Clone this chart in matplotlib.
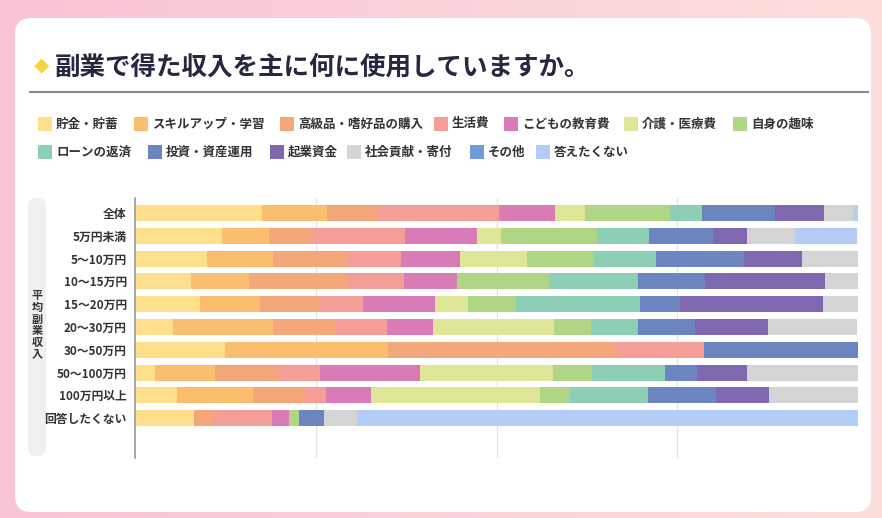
import numpy as np
import matplotlib.pyplot as plt
from matplotlib.patches import FancyBboxPatch, Rectangle

plt.rcParams['font.family'] = ['Noto Sans CJK JP', 'DejaVu Sans']

groups = ['全体', '5万円未満', '5～10万円', '10～15万円', '15～20万円', '20～30万円',
          '30～50万円', '50～100万円', '100万円以上', '回答したくない']

# percentages per answer, one value per group
savings   = [17.5, 12.1,  9.9,  7.7,  9.0,  5.3, 12.4,  2.8,  5.8,  8.2]
skills    = [ 9.1,  6.4,  9.2,  8.1,  8.3, 13.8, 22.6,  8.3, 10.5,  0.0]
luxury    = [ 7.0,  5.9, 10.4, 13.5,  8.3,  8.7, 31.5,  9.0,  7.3,  2.6]
living    = [16.8, 12.9,  7.3,  7.9,  5.9,  7.0, 12.2,  5.5,  2.8,  8.2]
education = [ 7.7, 10.0,  8.1,  7.3, 10.0,  6.4,  0.0, 13.8,  6.2,  2.3]
medical   = [ 4.1,  3.3,  9.3,  0.0,  4.6, 16.7,  0.0, 18.4, 23.4,  0.0]
hobby     = [11.8, 13.3,  9.3, 12.7,  6.6,  5.2,  0.0,  5.4,  4.1,  1.4]
loan      = [ 4.4,  7.2,  8.5, 12.4, 17.1,  6.5,  0.0, 10.1, 10.8,  0.0]
invest    = [10.1,  8.9, 12.2,  9.3,  5.6,  7.8, 21.3,  4.5,  9.5,  3.5]
startup   = [ 6.8,  4.7,  8.0, 16.5, 19.8, 10.1,  0.0,  6.8,  7.3,  0.0]
donation  = [ 4.0,  6.6,  7.8,  4.7,  4.8, 12.4,  0.0, 15.4, 12.3,  4.5]
other     = [ 0.0,  0.0,  0.0,  0.0,  0.0,  0.0,  0.0,  0.0,  0.0,  0.0]
no_answer = [ 0.7,  8.6,  0.0,  0.0,  0.0,  0.0,  0.0,  0.0,  0.0, 69.3]

labels = ['貯金・貯蓄', 'スキルアップ・学習', '高級品・嗜好品の購入', '生活費', 'こどもの教育費',
          '介護・医療費', '自身の趣味', 'ローンの返済', '投資・資産運用', '起業資金',
          '社会貢献・寄付', 'その他', '答えたくない']
series = [savings, skills, luxury, living, education, medical, hobby, loan,
          invest, startup, donation, other, no_answer]
colors = ['#fddf8c', '#fbbe6e', '#f4a77a', '#f59d97', '#d97bb6', '#dfe698',
          '#afd585', '#8dcfb5', '#6c85c1', '#8068b0', '#d4d4d4', '#709bd7', '#b3cdf7']

W, H = 882, 518
fig = plt.figure(figsize=(W / 100, H / 100), dpi=100)

# background: pink gradient frame + white card
bg = fig.add_axes([0, 0, 1, 1])
bg.set_xlim(0, W)
bg.set_ylim(H, 0)
bg.axis('off')
c1 = np.array([249, 196, 212]) / 255
c2 = np.array([252, 222, 220]) / 255
t = np.linspace(0, 1, 256)
grad = (c1[None, :] * (1 - t[:, None]) + c2[None, :] * t[:, None])[None, :, :]
bg.imshow(grad, extent=[0, W, H, 0], aspect='auto', zorder=0)
bg.add_patch(FancyBboxPatch((15, 18), 856, 494, boxstyle='round,pad=0,rounding_size=16',
                            fc='white', ec='none', zorder=1))

# title
bg.text(41, 67, '◆', color='#f5d442', fontsize=11, ha='center', va='center', zorder=2)
bg.text(55, 67, '副業で得た収入を主に何に使用していますか。', color='#262842',
        fontsize=18.4, fontweight='bold', ha='left', va='center', zorder=2)
bg.plot([30, 868], [92, 92], color='#8a8a8a', lw=1.5, zorder=2)

# legend (manual, two rows)
leg_x = [38, 134, 280, 434, 504, 624, 733, 38, 148, 270, 347, 470, 536]
leg_y = [124] * 7 + [152] * 6
for i, lab in enumerate(labels):
    bg.add_patch(Rectangle((leg_x[i], leg_y[i] - 7), 14, 14, fc=colors[i], ec='none', zorder=2))
    bg.text(leg_x[i] + 18, leg_y[i], lab, fontsize=9, fontweight='bold', color='#333333',
            ha='left', va='center', zorder=2)

# vertical group label
bg.add_patch(FancyBboxPatch((28, 198), 18, 258, boxstyle='round,pad=0,rounding_size=8',
                            fc='#f0f0f0', ec='none', zorder=2))
for k, ch in enumerate('平均副業収入'):
    bg.text(37, 296 + k * 11.6, ch, fontsize=8, fontweight='bold', color='#333333',
            ha='center', va='center', zorder=3)

# chart
ax = fig.add_axes([135 / W, 1 - 458 / H, 723 / W, 260 / H])
ax.set_zorder(2)
ax.patch.set_alpha(0)
y = np.arange(len(groups))
left = np.zeros(len(groups))
for vals, col, lab in zip(series, colors, labels):
    vals = np.array(vals)
    ax.barh(y, vals, left=left, height=0.7, color=col, label=lab, zorder=2)
    left += vals

ax.set_xlim(0, 100)
ax.set_ylim(10.75, -0.66)
ax.set_xticks([25, 50, 75, 100])
ax.xaxis.grid(True, color='#e2e2e2', lw=0.9, zorder=0)
ax.tick_params(axis='x', length=0, labelbottom=False)
ax.tick_params(axis='y', length=0, pad=6)
ax.set_yticks(y)
ax.set_yticklabels(groups, fontsize=8.5, fontweight='bold', color='#333333')
for s in ['top', 'right', 'bottom']:
    ax.spines[s].set_visible(False)
ax.spines['left'].set_color('#9a9a9a')
ax.spines['left'].set_linewidth(1.2)

fig.savefig('out.png', dpi=100)
